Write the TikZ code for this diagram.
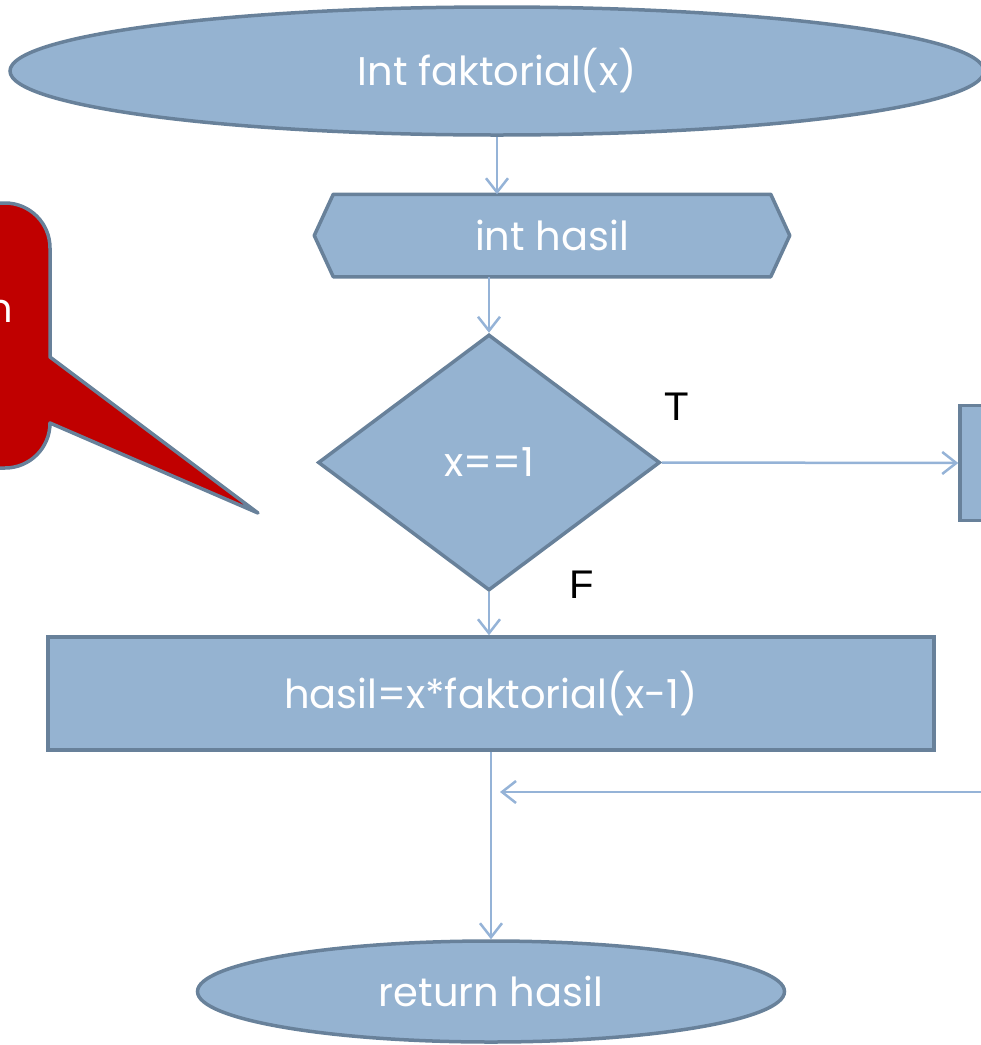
\documentclass[tikz,border=0pt]{standalone}
\usepackage{fontspec}
\setmainfont{Poppins}
\newfontfamily\labelfont{Liberation Sans}
\usetikzlibrary{shapes.geometric,arrows.meta,backgrounds}
\definecolor{boxfill}{HTML}{95B3D1}
\definecolor{boxline}{HTML}{68819A}
\definecolor{flow}{HTML}{95B3D7}
\definecolor{callred}{HTML}{C00000}

\begin{document}
\begin{tikzpicture}[x=1pt,y=-1pt,
  shapebase/.style={fill=boxfill,draw=boxline,line width=3.5pt,text=white,
    font=\fontsize{40}{44}\selectfont,inner sep=0pt},
  terminal/.style={shapebase,ellipse},
  decision/.style={shapebase,diamond},
  process/.style={shapebase,rectangle},
  hexlabel/.style={shapebase,rectangle,fill=none,draw=none},
  hexbox/.style={fill=boxfill,draw=boxline,line width=3.5pt,line join=round},
  flowline/.style={draw=flow,line width=2.5pt},
  flowarrow/.style={flowline,-{Straight Barb[length=14pt,width=22pt,line width=2.5pt]}},
  branch/.style={font=\labelfont\fontsize{40}{44}\selectfont,text=black,inner sep=0pt},
  callout/.style={fill=callred,draw=boxline,line width=3.5pt,line join=round},
  calltext/.style={font=\fontsize{40}{44}\selectfont,text=white,inner sep=0pt}]
\useasboundingbox (0,0) rectangle (981,1045);

% callout bubble at the left edge, pointing towards the decision
\path[callout] (-80,203) [rounded corners=45pt] -- (50,203) [sharp corners] -- (50,357) -- (258,513)
  -- (50,423) [rounded corners=45pt] -- (50,468) -- (-80,468) [sharp corners] -- cycle;
\node[calltext,anchor=base east] (calltxt) at (13,322) {n};

% flowchart nodes
\node[terminal,minimum width=974pt,minimum height=128pt] (start) at (497,71) {Int faktorial(x)};
\node[hexlabel,minimum width=472pt,minimum height=79pt] (hasil) at (552,235.5) {int hasil};
\begin{scope}[on background layer]
  \path[hexbox] (hasil.west) -- ([xshift=19pt]hasil.north west) -- ([xshift=-19pt]hasil.north east)
    -- (hasil.east) -- ([xshift=-19pt]hasil.south east) -- ([xshift=19pt]hasil.south west) -- cycle;
\end{scope}
\node[decision,minimum width=342pt,minimum height=256pt] (dec) at (489,462.5) {x==1};
\node[process,minimum width=60pt,minimum height=115pt] (side) at (990,463) {};
\node[process,minimum width=886pt,minimum height=113pt] (proc) at (491,693.5) {hasil=x*faktorial(x-1)};
\node[terminal,minimum width=587pt,minimum height=101pt] (ret) at (491,991.5) {return hasil};

% branch labels
\node[branch] (tlab) at (677,407) {T};
\node[branch] (flab) at (582,585) {F};

% connectors
\draw[flowarrow] (start.south) -- (start.south |- hasil.north);
\draw[flowarrow] (dec.north |- hasil.south) -- (dec.north);
\draw[flowarrow] (dec.east) -- (side.west);
\draw[flowarrow] (dec.south) -- (dec.south |- proc.north);
\draw[flowarrow] (ret.north |- proc.south) -- (ret.north);
\coordinate (loopin) at (981,792);
\draw[flowarrow] (loopin) -- ([xshift=9pt]proc.south |- loopin);
\end{tikzpicture}
\end{document}
